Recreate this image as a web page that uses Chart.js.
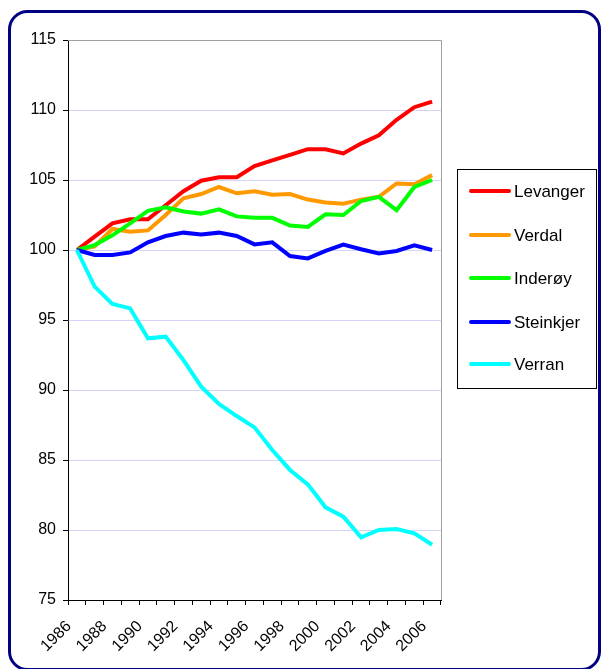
<!DOCTYPE html>
<html>
<head>
<meta charset="utf-8">
<script src="https://cdn.jsdelivr.net/npm/chart.js@4.4.1/dist/chart.umd.min.js"></script>
<style>
    html, body { margin: 0; padding: 0; background: #fff; }
    #wrap { width: 603px; height: 669px; position: relative; }
</style>
</head>
<body>
<div id="wrap"><canvas id="befolkningChart"></canvas></div>
<script>
const years = ['1986', '1987', '1988', '1989', '1990', '1991', '1992', '1993', '1994', '1995', '1996',
    '1997', '1998', '1999', '2000', '2001', '2002', '2003', '2004', '2005', '2006'];

const levanger = [100, 100.95, 101.9, 102.2, 102.2, 103.2, 104.2, 104.95, 105.2, 105.2, 106.0,
    106.4, 106.8, 107.2, 107.2, 106.9, 107.6, 108.2, 109.3, 110.2, 110.6];
const verdal = [100, 100.25, 101.5, 101.3, 101.4, 102.5, 103.7, 104.0, 104.5, 104.05, 104.2,
    103.95, 104.0, 103.6, 103.4, 103.3, 103.6, 103.8, 104.75, 104.7, 105.35];
const inderoy = [100, 100.35, 101.05, 101.9, 102.8, 103.05, 102.75, 102.6, 102.9, 102.4, 102.3,
    102.3, 101.75, 101.65, 102.55, 102.5, 103.5, 103.8, 102.85, 104.5, 105.0];
const steinkjer = [100, 99.64, 99.64, 99.83, 100.55, 101.0, 101.24, 101.1, 101.24, 101.0, 100.4,
    100.55, 99.57, 99.4, 99.93, 100.38, 100.05, 99.76, 99.93, 100.33, 100.0];
const verran = [100, 97.38, 96.14, 95.83, 93.69, 93.81, 92.14, 90.24, 89.0, 88.14, 87.33,
    85.71, 84.29, 83.26, 81.62, 80.95, 79.48, 80.0, 80.07, 79.76, 78.95];

const seriesNames = ['Levanger', 'Verdal', 'Inderøy', 'Steinkjer', 'Verran'];
const seriesData = [levanger, verdal, inderoy, steinkjer, verran];
const seriesColors = ['#ff0000', '#ff9900', '#00ff00', '#0000ff', '#00ffff'];

const fontFamily = '"Liberation Sans", Arial, sans-serif';

// outer rounded frame + plot frame + legend box
const framePlugin = {
    id: 'frame',
    beforeDraw(chart) {
        const c = chart.ctx;
        c.save();
        c.fillStyle = '#ffffff';
        c.fillRect(0, 0, chart.width, chart.height);
        c.restore();
    },
    afterDraw(chart) {
        const c = chart.ctx;
        const a = chart.chartArea;
        c.save();
        // grey top and right edges of plot
        c.strokeStyle = '#a0a0a0';
        c.lineWidth = 1;
        c.beginPath();
        c.moveTo(a.left, a.top + 0.5);
        c.lineTo(a.right + 0.5, a.top + 0.5);
        c.lineTo(a.right + 0.5, a.bottom);
        c.stroke();

        // legend
        const lx = 457.5, ly = 169.5, lw = 139, lh = 219;
        c.strokeStyle = '#000000';
        c.lineWidth = 1;
        c.strokeRect(lx, ly, lw, lh);
        const rows = [191, 235, 278, 322, 364];
        c.font = '17px ' + fontFamily;
        c.textBaseline = 'middle';
        c.textAlign = 'left';
        chart.data.datasets.forEach((ds, i) => {
            c.strokeStyle = ds.borderColor;
            c.lineWidth = 4;
            c.lineCap = 'round';
            c.beginPath();
            c.moveTo(471, rows[i]);
            c.lineTo(509, rows[i]);
            c.stroke();
            c.fillStyle = '#000000';
            c.fillText(ds.label, 514, rows[i] + 1);
        });

        // outer rounded border
        c.strokeStyle = '#000080';
        c.lineWidth = 3;
        c.beginPath();
        c.roundRect(9.5, 11.5, 590, 658, 18);
        c.stroke();
        c.restore();
    }
};

document.addEventListener('DOMContentLoaded', function () {
    const ctx = document.getElementById('befolkningChart');
    new Chart(ctx, {
        type: 'line',
        data: {
            labels: years,
            datasets: seriesNames.map((name, i) => ({
                label: name,
                data: seriesData[i],
                borderColor: seriesColors[i],
                backgroundColor: seriesColors[i],
                borderWidth: 4,
                pointRadius: 0,
                tension: 0,
                order: seriesNames.length - i
            }))
        },
        options: {
            responsive: true,
            maintainAspectRatio: false,
            animation: false,
            layout: {
                padding: { top: 40, right: 162, bottom: 0, left: 0 }
            },
            plugins: {
                legend: { display: false },
                tooltip: { enabled: false }
            },
            scales: {
                x: {
                    offset: true,
                    afterFit(scale) { scale.height = 69; },
                    border: { color: '#000000', width: 1 },
                    grid: {
                        offset: true,
                        drawOnChartArea: false,
                        tickLength: 5,
                        tickColor: '#000000'
                    },
                    ticks: {
                        autoSkip: false,
                        maxRotation: 45,
                        minRotation: 45,
                        padding: 12,
                        labelOffset: -8,
                        color: '#000000',
                        font: { family: fontFamily, size: 16 },
                        callback: function (value, index) {
                            return index % 2 === 0 ? this.getLabelForValue(value) : '';
                        }
                    }
                },
                y: {
                    min: 75,
                    max: 115,
                    afterFit(scale) { scale.width = 68; },
                    border: { color: '#000000', width: 1 },
                    grid: {
                        color: '#d4d4f8',
                        tickColor: '#000000',
                        tickLength: 5
                    },
                    ticks: {
                        stepSize: 5,
                        padding: 7,
                        color: '#000000',
                        font: { family: fontFamily, size: 16 }
                    }
                }
            }
        },
        plugins: [framePlugin]
    });
});
</script>
</body>
</html>
